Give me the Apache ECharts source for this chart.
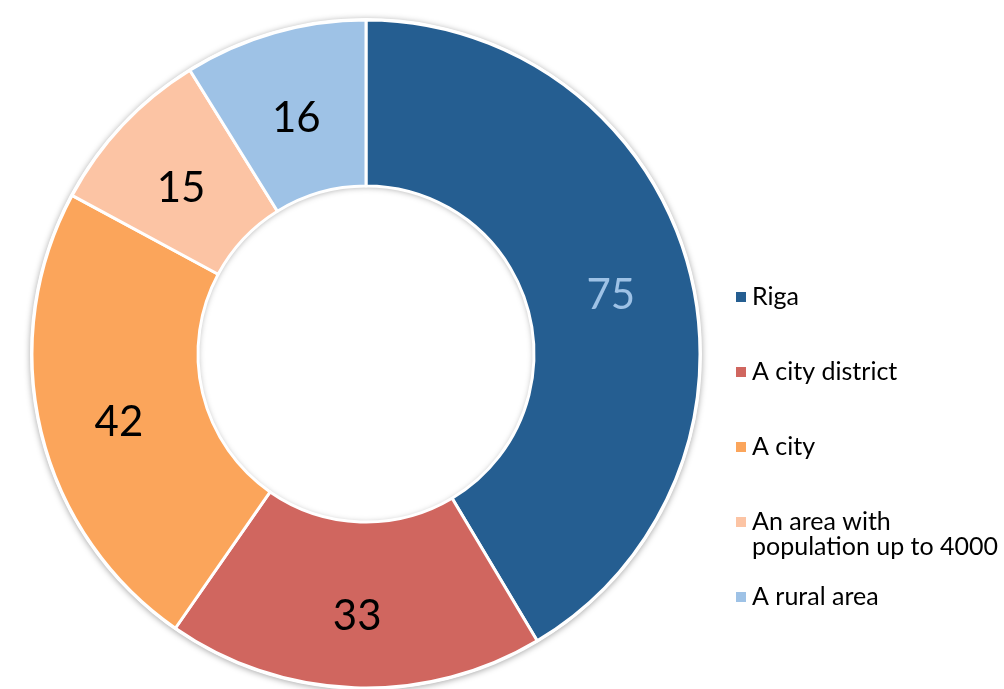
<!DOCTYPE html>
<html>
<head>
<meta charset="utf-8">
<script src="https://cdn.jsdelivr.net/npm/echarts@6/dist/echarts.min.js"></script>
<style>
  html, body { margin: 0; padding: 0; background: #fff; }
  #chart { width: 1004px; height: 689px; }
</style>
</head>
<body>
<div id="chart"></div>
<script>
// chart values
const categories = ['Riga', 'A city district', 'A city', 'An area with\npopulation up to 4000', 'A rural area'];
const values = [75, 33, 42, 15, 16];
const colors = ['#255E91', '#D0665F', '#FBA55B', '#FCC4A4', '#9EC2E6'];
const labelColors = ['#9EC2E6', '#000', '#000', '#000', '#000'];

// centre line of each legend icon
const legendY = [297, 372, 447, 522, 597];

const chart = echarts.init(document.getElementById('chart'));

const legends = categories.map((name, i) => {
    const twoLines = name.indexOf('\n') >= 0;
    return {
        data: [name],
        orient: 'vertical',
        left: 734,
        // item height is one or three lines of 25px
        top: legendY[i] - (twoLines ? 37.5 : 12.5),
        icon: 'rect',
        itemWidth: 12,
        itemHeight: 12,
        itemGap: 0,
        padding: 0,
        selectedMode: false,
        // a blank first line keeps the icon beside the first line of text
        formatter: n => (n.indexOf('\n') >= 0 ? '\n' + n : n),
        textStyle: {
            fontFamily: 'Lato',
            fontSize: 25,
            color: '#000',
            lineHeight: 25
        }
    };
});

const option = {
    animation: false,
    legend: legends,
    series: [
        {
            // shadow under the ring
            type: 'pie',
            silent: true,
            center: [366, 354],
            radius: [168, 336],
            z: 1,
            label: { show: false },
            itemStyle: {
                color: '#fff',
                shadowBlur: 6,
                shadowColor: 'rgba(0,0,0,0.35)',
                shadowOffsetY: 1
            },
            data: [{ value: 1, name: '' }]
        },
        {
            type: 'pie',
            center: [366, 354],
            radius: [168, 334],
            startAngle: 90,
            clockwise: true,
            z: 2,
            label: {
                show: true,
                position: 'inside',
                formatter: '{v|{c}}'
            },
            labelLine: { show: false },
            itemStyle: {
                borderColor: '#fff',
                borderWidth: 3
            },
            data: categories.map((name, i) => ({
                name: name,
                value: values[i],
                itemStyle: { color: colors[i] },
                label: {
                    rich: {
                        v: {
                            fontFamily: 'Lato',
                            fontSize: 42,
                            color: labelColors[i],
                            padding: [18, 0, 0, 0]
                        }
                    }
                }
            }))
        }
    ]
};

chart.setOption(option);
</script>
</body>
</html>
